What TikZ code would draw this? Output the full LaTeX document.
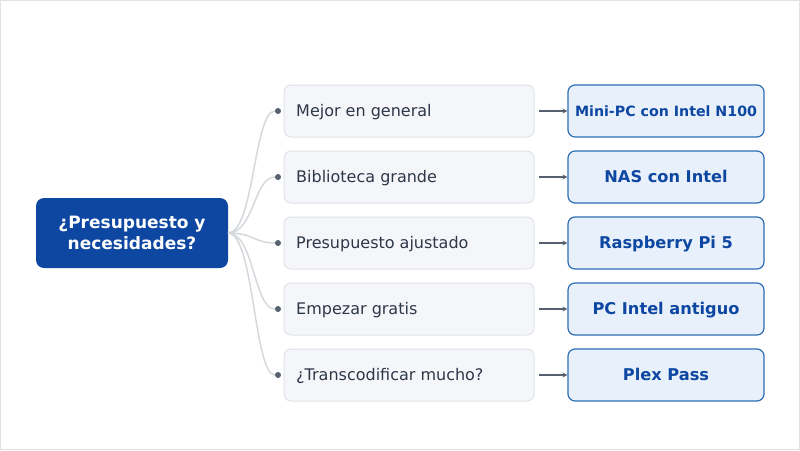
\documentclass[tikz,border=0pt]{standalone}
\usepackage{fontspec}
\setmainfont{DejaVu Sans}
\usetikzlibrary{arrows.meta}
\definecolor{rootblue}{HTML}{0D47A1}
\definecolor{midfill}{HTML}{F5F6FA}
\definecolor{midline}{HTML}{E0E3E8}
\definecolor{midtext}{HTML}{2D3748}
\definecolor{dotcol}{HTML}{56606E}
\definecolor{curvecol}{HTML}{D5D8DC}
\definecolor{resfill}{HTML}{E8F0FB}
\definecolor{resline}{HTML}{2F6DB5}
\definecolor{framecol}{HTML}{E2E2E2}
\tikzset{
  rootbox/.style={draw=none, fill=rootblue, rounded corners=8pt, minimum width=192pt, minimum height=70pt, text=white, font=\fontsize{17}{21}\selectfont\bfseries, align=center, inner sep=0pt},
  midbox/.style={draw=midline, line width=1pt, fill=midfill, rounded corners=7pt, minimum width=250pt, minimum height=52pt, inner sep=0pt},
  midlabel/.style={text=midtext, font=\fontsize{16}{19}\selectfont, anchor=base west, inner sep=0pt},
  resbox/.style={draw=resline, line width=1.2pt, fill=resfill, rounded corners=7pt, minimum width=196pt, minimum height=52pt, text=rootblue, inner sep=0pt, text height=12pt, text depth=1.4pt},
  dotnode/.style={circle, fill=dotcol, minimum size=6pt, inner sep=0pt},
  branch/.style={draw=curvecol, line width=1.5pt},
  link/.style={draw=dotcol, line width=1.2pt, -{Stealth[length=5pt,width=5pt]}}
}
\begin{document}
\begin{tikzpicture}[x=1pt,y=-1pt]
\useasboundingbox (0,0) rectangle (800,450);
\draw[framecol, line width=1pt] (0.5,0.5) rectangle (799.5,449.5);
\node[rootbox] (root) at (132,233) {¿Presupuesto y\\necesidades?};
\coordinate (rootout) at (228,233);
\foreach \i/\y/\mtxt/\rtxt/\fs in {1/111/Mejor en general/Mini-PC con Intel N100/14.2, 2/177/Biblioteca grande/NAS con Intel/16.2, 3/243/Presupuesto ajustado/Raspberry Pi 5/16.2, 4/309/Empezar gratis/PC Intel antiguo/16.2, 5/375/¿Transcodificar mucho?/Plex Pass/16.2}{
  \node[midbox] (m\i) at (409,\y) {};
  \node[midlabel] (ml\i) at (296,\y+5.8) {\mtxt};
  \node[dotnode] (d\i) at (278,\y) {};
  \node[resbox, font=\fontsize{\fs}{19}\selectfont\bfseries] (r\i) at (666,\y) {\rtxt};
  \draw[branch] (rootout) .. controls (254,233) and (254,\y) .. (d\i.west);
  \draw[link] (m\i.east) ++(4,0) coordinate (a\i) -- (r\i.west);
}
\end{tikzpicture}
\end{document}
